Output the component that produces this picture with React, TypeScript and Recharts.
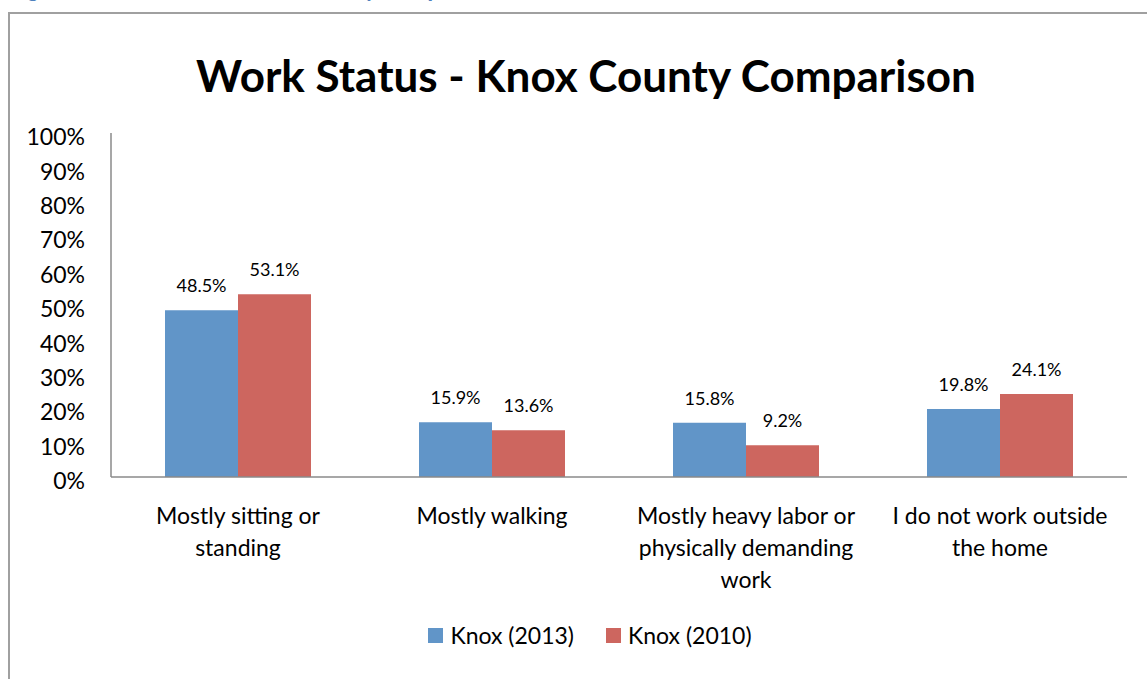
import React from 'react';
import { BarChart, Bar, XAxis, YAxis, LabelList } from 'recharts';

// category tick labels, wrapped the way the reference wraps them
const categoryLines = [
  ['Mostly sitting or', 'standing'],
  ['Mostly walking'],
  ['Mostly heavy labor or', 'physically demanding', 'work'],
  ['I do not work outside', 'the home'],
];
const knox2013 = [48.5, 15.9, 15.8, 19.8];
const knox2010 = [53.1, 13.6, 9.2, 24.1];
const yTicks = [0, 10, 20, 30, 40, 50, 60, 70, 80, 90, 100];
const seriesNames = ['Knox (2013)', 'Knox (2010)'];

const FONT = 'Lato, "Open Sans", sans-serif';
const BLUE = '#6195c8';
const RED = '#cd665f';
const AXIS = '#8a8a8a';

const data = categoryLines.map((lines, i) => ({
  category: lines.join(' '),
  k2013: knox2013[i],
  k2010: knox2010[i],
}));

const CategoryTick = (props: any) => {
  const { x, y, index } = props;
  const lines = categoryLines[index] || [];
  return (
    <text x={x} y={y} textAnchor="middle" fontSize={23} fontFamily={FONT} fill="#000">
      {lines.map((line, i) => (
        <tspan key={i} x={x} y={y + 45 + i * 32}>
          {line}
        </tspan>
      ))}
    </text>
  );
};

const fmt = (v: any) => `${Number(v).toFixed(1)}%`;

export default function App() {
  return (
    <div style={{ position: 'fixed', left: 0, top: 0, width: 1147, height: 679, overflow: 'hidden', background: '#fff' }}>
      <svg width={1147} height={12} style={{ position: 'absolute', left: 0, top: 0 }}>
        <text x={10} y={-3} fontFamily={FONT} fontSize={24} fontWeight="bold" fontStyle="italic" fill="#4f81bd">
          Figure 5: Work Status - Knox County Comparison
        </text>
      </svg>
      <div style={{ position: 'absolute', left: 8, top: 12, width: 1200, height: 700, border: '2px solid #a0a0a0', boxSizing: 'border-box' }} />
      <div style={{ position: 'absolute', left: 0, width: 1172, top: 48, textAlign: 'center', fontFamily: FONT, fontWeight: 'bold', fontSize: 44, color: '#000', lineHeight: '54px' }}>
        Work Status - Knox County Comparison
      </div>
      <BarChart
        width={1147}
        height={679}
        data={data}
        margin={{ top: 133, right: 20, left: 0, bottom: 92 }}
        barCategoryGap={54}
        barGap={0}
        style={{ position: 'absolute', left: 0, top: 0 }}
      >
        <YAxis
          width={111}
          domain={[0, 100]}
          ticks={yTicks}
          interval={0}
          tickFormatter={(v: number) => `${v}%`}
          tickLine={false}
          tickSize={0}
          tickMargin={26}
          axisLine={{ stroke: AXIS, strokeWidth: 1.5 }}
          tick={{ fontSize: 23, fill: '#000', fontFamily: FONT, dy: 4 }}
        />
        <XAxis
          dataKey="category"
          interval={0}
          tickLine={false}
          tickSize={0}
          height={110}
          axisLine={{ stroke: AXIS, strokeWidth: 1.5 }}
          tick={<CategoryTick />}
        />
        <Bar dataKey="k2013" name={seriesNames[0]} fill={BLUE} isAnimationActive={false}>
          <LabelList dataKey="k2013" position="top" offset={18} formatter={fmt} style={{ fontSize: 18, fill: '#000', fontFamily: FONT }} />
        </Bar>
        <Bar dataKey="k2010" name={seriesNames[1]} fill={RED} isAnimationActive={false}>
          <LabelList dataKey="k2010" position="top" offset={18} formatter={fmt} style={{ fontSize: 18, fill: '#000', fontFamily: FONT }} />
        </Bar>
      </BarChart>
      <div style={{ position: 'absolute', left: 0, width: 1180, top: 620, height: 30, display: 'flex', justifyContent: 'center', alignItems: 'center', fontFamily: FONT, fontSize: 23, color: '#000' }}>
        {seriesNames.map((name, i) => (
          <div key={name} style={{ display: 'flex', alignItems: 'center', marginRight: i === 0 ? 32 : 0 }}>
            <span style={{ display: 'inline-block', width: 15, height: 15, background: i === 0 ? BLUE : RED, marginRight: 7 }} />
            <span>{name}</span>
          </div>
        ))}
      </div>
    </div>
  );
}
